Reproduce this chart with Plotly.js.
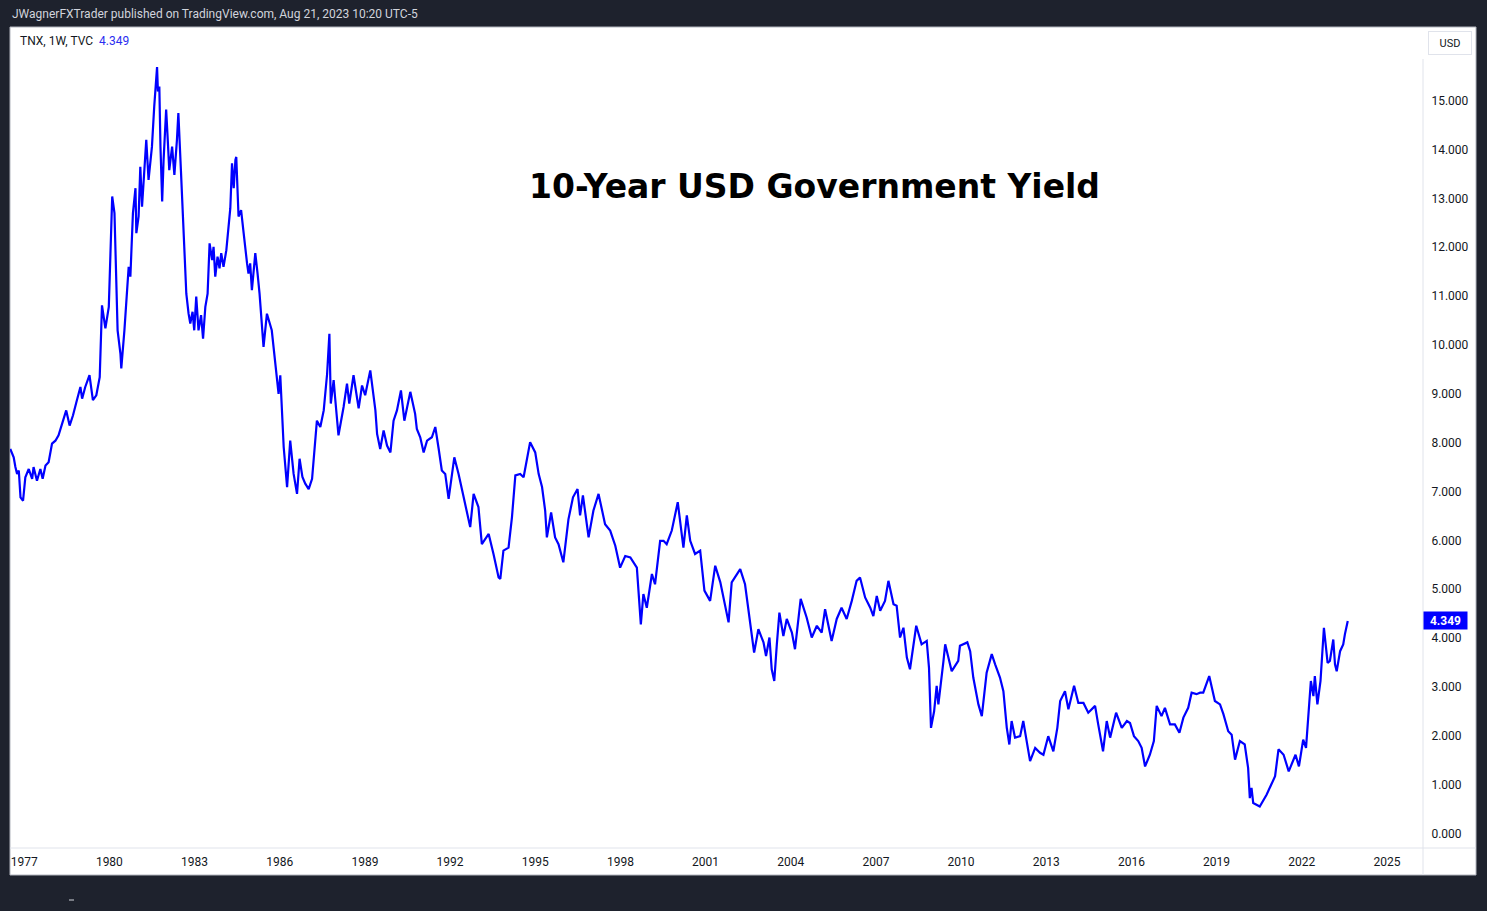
<!DOCTYPE html>
<html>
<head>
<meta charset="utf-8">
<script src="https://cdn.plot.ly/plotly-3.0.1.min.js"></script>
<style>
  html, body { margin: 0; padding: 0; background: #1e222d; }
  #chart { width: 1487px; height: 911px; }
</style>
</head>
<body>
<div id="chart"></div>
<script>
// Decimal-year dates (weekly closes)
const dates = [
1976.51,1976.63,1976.69,1976.75,1976.81,1976.87,1976.96,1977.04,1977.16,1977.28,1977.33,1977.45,1977.57,1977.65,1977.75,1977.86,1977.98,
1978.10,1978.21,1978.33,1978.48,1978.60,1978.72,1978.84,1978.98,1979.04,1979.15,1979.30,1979.42,1979.54,1979.66,1979.74,1979.86,1979.98,
1980.04,1980.10,1980.18,1980.25,1980.29,1980.39,1980.42,1980.53,1980.59,1980.68,1980.74,1980.83,1980.92,1980.95,
1981.03,1981.09,1981.15,1981.21,1981.30,1981.38,1981.50,1981.58,1981.64,1981.68,1981.71,1981.76,1981.80,1981.86,1981.91,
1982.00,1982.05,1982.11,1982.21,1982.29,1982.38,1982.43,1982.52,1982.59,1982.64,1982.71,1982.79,1982.85,1982.93,1982.99,
1983.06,1983.14,1983.23,1983.30,1983.38,1983.46,1983.53,1983.62,1983.67,1983.73,1983.81,1983.88,1983.94,
1984.02,1984.12,1984.20,1984.26,1984.32,1984.38,1984.44,1984.47,1984.55,1984.64,1984.73,1984.79,1984.85,1984.90,1984.96,
1985.02,1985.14,1985.22,1985.29,1985.43,1985.55,1985.72,1985.85,1985.96,
1986.02,1986.14,1986.26,1986.37,1986.49,1986.61,1986.70,1986.80,1986.90,
1987.02,1987.14,1987.31,1987.43,1987.55,1987.67,1987.75,1987.80,1987.90,1987.95,
1988.07,1988.25,1988.37,1988.45,1988.60,1988.78,1988.90,
1989.01,1989.19,1989.37,1989.43,1989.54,1989.66,1989.78,1989.90,
1990.01,1990.13,1990.27,1990.39,1990.60,1990.77,1990.83,1990.95,
1991.07,1991.19,1991.36,1991.48,1991.60,1991.71,1991.83,1991.95,
1992.15,1992.30,1992.48,1992.71,1992.83,1993.00,1993.12,1993.36,1993.53,1993.71,1993.77,1993.88,
1994.06,1994.18,1994.30,1994.47,1994.59,1994.71,1994.82,
1995.00,1995.12,1995.24,1995.35,1995.41,1995.56,1995.70,1995.82,1995.99,
1996.17,1996.33,1996.49,1996.58,1996.68,1996.88,
1997.05,1997.23,1997.46,1997.64,1997.82,1997.99,
1998.17,1998.35,1998.58,1998.72,1998.81,1998.93,
1999.11,1999.22,1999.40,1999.52,1999.63,1999.81,
2000.02,2000.22,2000.34,2000.46,2000.63,2000.81,2000.96,
2001.16,2001.34,2001.52,2001.63,2001.81,2001.92,
2002.16,2002.22,2002.39,2002.57,2002.71,2002.86,
2003.04,2003.13,2003.25,2003.33,2003.42,2003.51,2003.60,2003.74,2003.86,
2004.04,2004.15,2004.35,2004.56,2004.74,2004.92,
2005.09,2005.21,2005.44,2005.62,2005.79,2005.97,
2006.15,2006.32,2006.44,2006.62,2006.80,2006.91,
2007.03,2007.15,2007.32,2007.44,2007.62,2007.73,2007.85,2007.97,
2008.09,2008.20,2008.42,2008.61,2008.79,2008.87,2008.94,
2009.05,2009.14,2009.20,2009.38,2009.44,2009.67,2009.90,2009.96,
2010.22,2010.32,2010.43,2010.61,2010.73,2010.90,
2011.08,2011.20,2011.37,2011.49,2011.61,2011.70,2011.78,2011.90,
2012.08,2012.19,2012.31,2012.43,2012.61,2012.78,2012.90,
2013.07,2013.25,2013.39,2013.49,2013.66,2013.78,2013.98,
2014.13,2014.31,2014.48,2014.72,2014.83,
2015.00,2015.13,2015.25,2015.46,2015.66,2015.84,2015.95,
2016.09,2016.24,2016.36,2016.48,2016.65,2016.79,2016.89,
2017.06,2017.18,2017.36,2017.53,2017.69,2017.83,
2018.00,2018.12,2018.29,2018.42,2018.53,2018.74,2018.94,
2019.12,2019.24,2019.41,2019.53,2019.65,2019.82,2019.99,
2020.11,2020.17,2020.23,2020.29,2020.52,2020.76,2020.94,
2021.06,2021.18,2021.36,2021.54,2021.78,2021.90,
2022.05,2022.15,2022.23,2022.32,2022.41,2022.46,2022.55,2022.66,2022.78,2022.91,2022.99,
2023.11,2023.17,2023.23,2023.35,2023.46,2023.52,2023.62
];

// 10-year yield, percent
const yields = [
7.87,7.70,7.50,7.36,7.43,6.88,6.81,7.29,7.46,7.26,7.50,7.22,7.46,7.26,7.53,7.60,7.98,
8.04,8.15,8.39,8.66,8.35,8.56,8.83,9.14,8.90,9.14,9.38,8.87,8.97,9.34,10.81,10.34,10.78,
11.88,13.04,12.70,11.05,10.30,9.82,9.52,10.30,10.85,11.60,11.40,12.70,13.21,12.29,
12.63,13.65,12.83,13.41,14.20,13.38,14.06,14.88,15.43,15.69,15.19,15.29,14.06,12.94,13.79,
14.82,14.27,13.58,14.06,13.48,14.20,14.75,13.58,12.70,12.22,11.05,10.64,10.44,10.68,10.30,
10.99,10.30,10.61,10.13,10.78,11.05,12.08,11.74,12.01,11.40,11.81,11.57,11.88,
11.60,11.94,12.49,12.80,13.72,13.21,13.79,13.85,12.63,12.76,12.29,11.94,11.67,11.46,11.67,
11.12,11.88,11.46,11.05,9.96,10.64,10.30,9.62,9.00,
9.38,7.91,7.09,8.04,7.36,6.95,7.67,7.30,7.16,
7.05,7.26,8.45,8.32,8.66,9.41,10.23,8.80,9.28,8.93,
8.15,8.73,9.21,8.80,9.38,8.70,9.17,
8.97,9.48,8.66,8.18,7.87,8.25,7.94,7.80,
8.45,8.66,9.07,8.45,9.04,8.59,8.28,8.11,
7.80,8.04,8.11,8.32,7.87,7.43,7.36,6.85,
7.70,7.36,6.88,6.27,6.95,6.68,5.92,6.13,5.72,5.24,5.21,5.79,
5.85,6.47,7.33,7.36,7.29,7.63,8.01,
7.80,7.36,7.09,6.61,6.06,6.57,6.06,5.92,5.55,
6.43,6.88,7.05,6.51,6.92,6.06,
6.61,6.95,6.33,6.20,5.89,5.44,
5.68,5.65,5.44,4.28,4.90,4.62,
5.31,5.10,5.99,5.99,5.92,6.20,
6.78,5.85,6.51,5.99,5.72,5.79,4.97,
4.76,5.48,5.14,4.83,4.32,5.14,
5.38,5.41,5.10,4.28,3.70,4.18,
3.91,3.63,4.01,3.36,3.12,3.87,4.52,4.04,4.39,
4.11,3.77,4.80,4.42,4.01,4.25,
4.11,4.59,3.94,4.39,4.62,4.39,
4.76,5.17,5.24,4.83,4.62,4.45,
4.86,4.56,4.76,5.17,4.69,4.66,4.01,4.21,
3.60,3.36,4.25,3.87,3.94,3.39,2.16,
2.50,3.02,2.64,3.53,3.87,3.32,3.53,3.84,
3.91,3.73,3.19,2.64,2.40,3.29,
3.67,3.46,3.19,2.91,2.16,1.82,2.30,1.96,
1.99,2.30,1.89,1.48,1.75,1.65,1.61,
1.99,1.68,2.16,2.71,2.91,2.54,3.02,
2.67,2.67,2.47,2.61,2.23,
1.68,2.30,1.96,2.47,2.16,2.30,2.26,
1.99,1.89,1.75,1.37,1.61,1.89,2.61,
2.40,2.57,2.23,2.23,2.06,2.37,
2.57,2.88,2.85,2.88,2.88,3.22,2.71,
2.64,2.44,2.09,2.02,1.51,1.89,1.82,
1.34,0.72,0.93,0.62,0.55,0.79,1.00,
1.17,1.72,1.61,1.27,1.61,1.37,
1.92,1.75,2.44,3.12,2.81,3.22,2.64,3.12,4.21,3.49,3.53,
3.97,3.46,3.32,3.73,3.87,4.08,4.349
];

const yearTicks = [1977,1980,1983,1986,1989,1992,1995,1998,2001,2004,2007,2010,2013,2016,2019,2022,2025];
const yearLabels = ["1977","1980","1983","1986","1989","1992","1995","1998","2001","2004","2007","2010","2013","2016","2019","2022","2025"];
const yTicks = [0,1,2,3,4,5,6,7,8,9,10,11,12,13,14,15];
const lastValue = 4.349;
const symbolText = "TNX, 1W, TVC";
const headerText = "JWagnerFXTrader published on TradingView.com, Aug 21, 2023 10:20 UTC-5";
const chartTitle = "10-Year USD Government Yield";

const LINE = "#0000ff";
const TXT = "#131722";
const SEP = "#e0e3eb";

const trace = {
  x: dates, y: yields, type: "scatter", mode: "lines",
  line: { color: LINE, width: 2.2 }, hoverinfo: "skip"
};

// px -> paper helpers (plot area: x 10..1423, y 28..848)
const px = X => (X - 10) / 1413;
const py = Y => (848 - Y) / 820;

const layout = {
  width: 1487, height: 911,
  margin: { l: 10, r: 64, t: 28, b: 63, pad: 0 },
  paper_bgcolor: "#1e222d",
  plot_bgcolor: "#ffffff",
  showlegend: false,
  hovermode: false,
  font: { family: "Roboto, 'Liberation Sans', sans-serif", size: 12, color: TXT },
  xaxis: {
    type: "linear", range: [1976.50, 2026.27],
    tickvals: yearTicks, ticktext: yearLabels,
    showgrid: false, zeroline: false, showline: false,
    ticks: "outside", ticklen: 3, tickcolor: "rgba(0,0,0,0)",
    tickfont: { size: 12, color: TXT }, fixedrange: true
  },
  yaxis: {
    side: "right", range: [-0.30, 16.49],
    tickvals: yTicks, tickformat: ".3f",
    showgrid: false, zeroline: false, showline: false,
    ticks: "outside", ticklen: 5, tickcolor: "rgba(0,0,0,0)",
    tickfont: { size: 12, color: TXT }, fixedrange: true
  },
  shapes: [
    { type: "rect", xref: "paper", yref: "paper", layer: "below",
      x0: px(10), x1: px(1476), y0: py(875), y1: py(27),
      fillcolor: "#ffffff", line: { color: "#b2b5be", width: 1 } },
    { type: "line", xref: "paper", yref: "paper",
      x0: px(10), x1: px(1476), y0: py(848), y1: py(848),
      line: { color: SEP, width: 1 } },
    { type: "line", xref: "paper", yref: "paper",
      x0: px(1423), x1: px(1423), y0: py(875), y1: py(59),
      line: { color: SEP, width: 1 } },
    { type: "line", xref: "paper", yref: "paper",
      x0: px(69), x1: px(74), y0: py(900), y1: py(900),
      line: { color: "#d1d4dc", width: 1 } }
  ],
  annotations: [
    { xref: "paper", yref: "paper", x: px(10), y: py(14), xanchor: "left", yanchor: "middle",
      text: headerText, showarrow: false,
      font: { family: "Roboto, sans-serif", size: 12, color: "#d1d4dc", weight: 400 } },
    { xref: "paper", yref: "paper", x: px(18), y: py(41), xanchor: "left", yanchor: "middle",
      text: symbolText + "  <span style='color:#2a2ef0'>" + lastValue.toFixed(3) + "</span>",
      showarrow: false, font: { size: 12, color: TXT } },
    { xref: "paper", yref: "paper", x: px(1450), y: py(43), xanchor: "center", yanchor: "middle",
      text: "USD", showarrow: false, width: 38, height: 18, borderpad: 2,
      bordercolor: SEP, borderwidth: 1, bgcolor: "#ffffff",
      font: { size: 11, color: TXT } },
    { xref: "paper", yref: "y", x: 1, y: lastValue, xanchor: "left", yanchor: "middle",
      text: "<b>" + lastValue.toFixed(3) + "</b>", showarrow: false,
      width: 39, height: 13, borderpad: 2, bgcolor: LINE,
      font: { size: 12, color: "#ffffff" } },
    { xref: "paper", yref: "paper", x: px(815), y: py(187), xanchor: "center", yanchor: "middle",
      text: chartTitle, showarrow: false,
      font: { family: "'DejaVu Sans', sans-serif", size: 33, color: "#000000", weight: 700 } }
  ]
};

Plotly.newPlot("chart", [trace], layout, { displayModeBar: false, staticPlot: true });
</script>
</body>
</html>
